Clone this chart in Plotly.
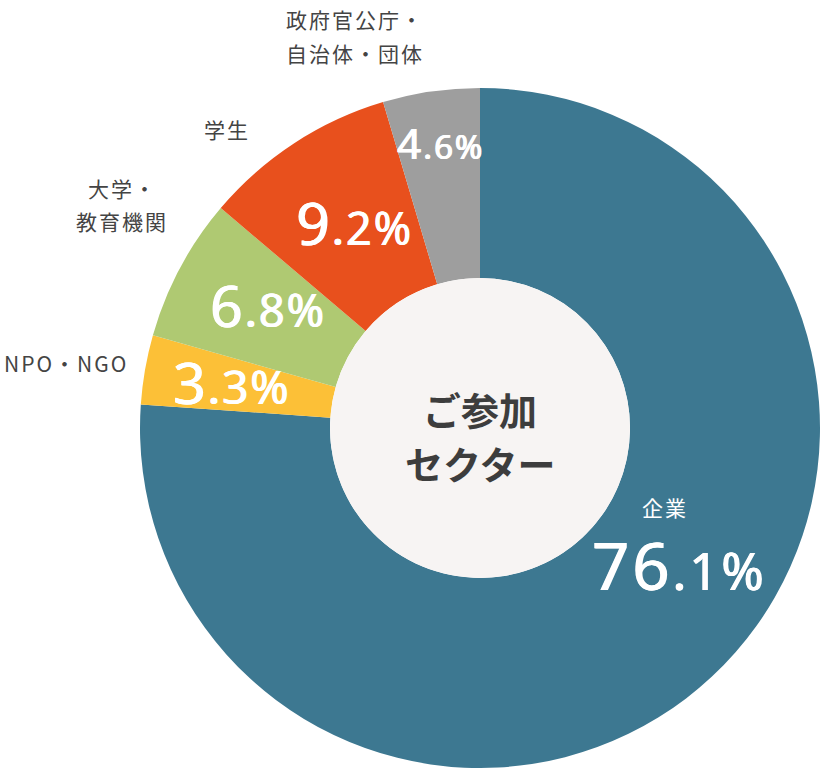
"""
Donut chart of participating sectors (ご参加セクター).
"""

import plotly.graph_objects as go

# Data
SECTORS = ["企業", "NPO・NGO", "大学・教育機関", "学生", "政府官公庁・自治体・団体"]
SHARES = [76.1, 3.3, 6.8, 9.2, 4.6]
COLORS = ["#3d7891", "#fcc037", "#afc972", "#e8501d", "#9e9e9e"]

# Outside / inside category captions, one list of lines per sector
CAPTION_LINES = [["企業"], ["NPO・NGO"], ["大学・", "教育機関"], ["学生"], ["政府官公庁・", "自治体・団体"]]
CENTER_LINES = ["ご参加", "セクター"]

# Layout (pixels)
WIDTH, HEIGHT = 820, 768
CENTER = (480, 428)
R_OUTER, R_INNER = 340, 150
FONT = "Noto Sans CJK JP"
PCT_FONT = "Noto Sans"
LABEL_COLOR = "#444444"
HOLE_COLOR = "#f7f4f3"

# percent label: centre (x, y), big size, small size
PCT_STYLE = [
    ((679, 565), 65, 51),
    ((232, 382), 57, 46),
    ((268, 305), 57, 45),
    ((354, 222), 59, 45),
    ((440, 143), 42, 33),
]
# caption: centre x, first line centre y, line step, size, colour
CAPTION_STYLE = [
    (665, 507, 0, 21, "white"),
    (66, 363, 0, 21, LABEL_COLOR),
    (122, 188, 33, 21, LABEL_COLOR),
    (227, 129, 0, 21, LABEL_COLOR),
    (355, 19, 34, 21, LABEL_COLOR),
]


def paper(x, y):
    return x / WIDTH, 1 - y / HEIGHT


def pct_text(value, big, small):
    whole, frac = f"{value:.1f}".split(".")
    spacing = round(big * 0.04)
    return (f"<span style='font-size:{big}px;letter-spacing:{spacing}px'>{whole}</span>"
            f"<span style='font-size:{small}px;letter-spacing:{spacing}px'>.{frac}%</span>")


def add_label(fig, px, py, text, font):
    x, y = paper(px, py)
    fig.add_annotation(x=x, y=y, xref="paper", yref="paper", showarrow=False,
                       xanchor="center", yanchor="middle", text=text, font=font)


fig = go.Figure()

cx, cy = CENTER
fig.add_trace(go.Pie(
    labels=SECTORS,
    values=SHARES,
    marker=dict(colors=COLORS, line=dict(width=0)),
    sort=False,
    direction="clockwise",
    rotation=0,
    hole=R_INNER / R_OUTER,
    textinfo="none",
    hoverinfo="label+percent",
    showlegend=False,
    domain=dict(x=[(cx - R_OUTER) / WIDTH, (cx + R_OUTER) / WIDTH],
                y=[1 - (cy + R_OUTER) / HEIGHT, 1 - (cy - R_OUTER) / HEIGHT]),
))

# filled centre of the donut
x0, y1 = paper(cx - R_INNER, cy - R_INNER)
x1, y0 = paper(cx + R_INNER, cy + R_INNER)
fig.add_shape(type="circle", xref="paper", yref="paper", x0=x0, x1=x1, y0=y0, y1=y1,
              fillcolor=HOLE_COLOR, line_width=0, layer="above")

# regular weight, thickened a touch with a tight shadow to look "medium"
for value, ((px, py), big, small) in zip(SHARES, PCT_STYLE):
    add_label(fig, px, py, pct_text(value, big, small),
              dict(family=PCT_FONT, color="white", size=big, weight="normal",
                   shadow="0.8px 0 0 white, -0.4px 0 0 white"))

for lines, (px, py, step, size, color) in zip(CAPTION_LINES, CAPTION_STYLE):
    for i, line in enumerate(lines):
        add_label(fig, px, py + i * step, f"<span style='letter-spacing:2px'>{line}</span>",
                  dict(family=FONT, color=color, size=size))

for i, line in enumerate(CENTER_LINES):
    add_label(fig, cx, 408 + i * 54, line,
              dict(family=FONT, color="#3d3d3d", size=38, weight="bold"))

fig.update_layout(
    width=WIDTH, height=HEIGHT,
    margin=dict(l=0, r=0, t=0, b=0),
    paper_bgcolor="white", plot_bgcolor="white",
)

# drop the browser's default body margin so the figure sits at the page corner
fig.write_html("out.html", config={"displayModeBar": False},
               post_script="document.body.style.margin = '0';")
